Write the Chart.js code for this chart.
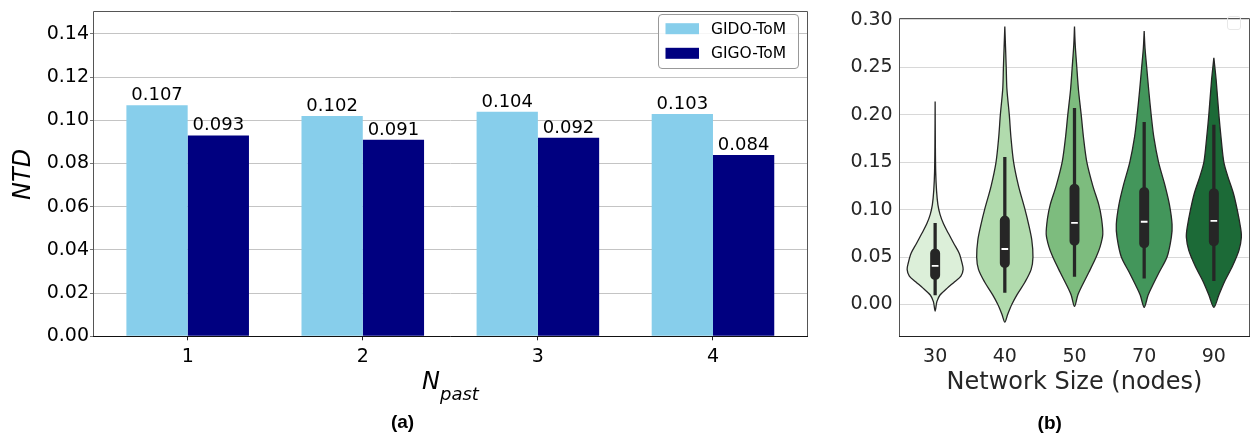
<!DOCTYPE html>
<html><head><meta charset="utf-8">
<script src="https://cdn.jsdelivr.net/npm/chart.js@4.4.1/dist/chart.umd.min.js"></script>
<style>
html,body{margin:0;padding:0;background:#fff;width:1252px;height:442px;overflow:hidden;}
#a{position:absolute;left:0;top:0;}
#b{position:absolute;left:830px;top:0;}
</style></head><body>
<canvas id="a" width="830" height="442"></canvas>
<canvas id="b" width="422" height="442"></canvas>
<script>
// ---------- panel (a) data ----------
const nPast = [1, 2, 3, 4];
const gidoTom = [0.107, 0.102, 0.104, 0.103];
const gigoTom = [0.093, 0.091, 0.092, 0.084];

// ---------- panel (b) data ----------
const networkSizes = ['30', '40', '50', '70', '90'];
const whiskerLow  = [0.0102, 0.0128, 0.0297, 0.0277, 0.0250];
const boxLow      = [0.0264, 0.0389, 0.0625, 0.0598, 0.0620];
const medians     = [0.0407, 0.0585, 0.0861, 0.0872, 0.0882];
const boxHigh     = [0.0585, 0.0931, 0.1267, 0.1233, 0.1220];
const whiskerHigh = [0.0855, 0.1550, 0.2067, 0.1919, 0.1890];

// violin density profiles: NTD value (top -> bottom) and half width (category units)
const violin30Values = [0.214, 0.17, 0.14, 0.12, 0.105, 0.095, 0.085, 0.075, 0.064, 0.054, 0.044, 0.037, 0.030, 0.024, 0.017, 0.010, 0.003, -0.007];
const violin30Widths = [0, 0.003, 0.008, 0.02, 0.04, 0.07, 0.12, 0.19, 0.27, 0.345, 0.385, 0.402, 0.37, 0.28, 0.17, 0.07, 0.025, 0];
const violin40Values = [0.293, 0.25, 0.227, 0.20, 0.176, 0.15, 0.125, 0.10, 0.085, 0.068, 0.05, 0.037, 0.0237, 0.0102, 0.0, -0.010, -0.0186];
const violin40Widths = [0, 0.02, 0.03, 0.064, 0.088, 0.126, 0.196, 0.29, 0.34, 0.387, 0.404, 0.378, 0.29, 0.174, 0.1, 0.043, 0];
const violin50Values = [0.293, 0.274, 0.25, 0.226, 0.20, 0.176, 0.15, 0.125, 0.105, 0.091, 0.074, 0.061, 0.05, 0.034, 0.020, 0.010, -0.002];
const violin50Widths = [0, 0.01, 0.033, 0.057, 0.096, 0.129, 0.177, 0.263, 0.349, 0.387, 0.406, 0.368, 0.311, 0.206, 0.11, 0.048, 0];
const violin70Values = [0.288, 0.27, 0.25, 0.226, 0.20, 0.176, 0.15, 0.125, 0.105, 0.0845, 0.071, 0.05, 0.034, 0.020, 0.010, -0.003];
const violin70Widths = [0, 0.012, 0.036, 0.065, 0.1, 0.139, 0.206, 0.3, 0.363, 0.4, 0.39, 0.328, 0.215, 0.12, 0.057, 0];
const violin90Values = [0.260, 0.2365, 0.20, 0.176, 0.15, 0.135, 0.118, 0.10, 0.081, 0.071, 0.057, 0.0405, 0.024, 0.010, -0.003];
const violin90Widths = [0, 0.033, 0.072, 0.103, 0.143, 0.2, 0.277, 0.335, 0.383, 0.395, 0.36, 0.268, 0.153, 0.072, 0];

const violinColors = ['#dcefd9', '#b1dbad', '#7dbc7e', '#43965b', '#1c6a37'];

Chart.defaults.font.family = "'DejaVu Sans', sans-serif";
Chart.defaults.animation = false;

function frame(ctx, a, side, bottom) {
  ctx.save();
  ctx.lineWidth = 1;
  ctx.strokeStyle = side;
  ctx.beginPath();
  ctx.moveTo(Math.round(a.left) - 0.5, Math.round(a.bottom));
  ctx.lineTo(Math.round(a.left) - 0.5, Math.round(a.top) - 0.5);
  ctx.lineTo(Math.round(a.right) + 0.5, Math.round(a.top) - 0.5);
  ctx.lineTo(Math.round(a.right) + 0.5, Math.round(a.bottom));
  ctx.stroke();
  ctx.strokeStyle = bottom;
  ctx.beginPath();
  ctx.moveTo(Math.round(a.left) - 1, Math.round(a.bottom) + 0.5);
  ctx.lineTo(Math.round(a.right) + 1, Math.round(a.bottom) + 0.5);
  ctx.stroke();
  ctx.restore();
}
function rrect(ctx, x, y, w, h, r) {
  ctx.beginPath();
  ctx.moveTo(x + r, y);
  ctx.arcTo(x + w, y, x + w, y + h, r);
  ctx.arcTo(x + w, y + h, x, y + h, r);
  ctx.arcTo(x, y + h, x, y, r);
  ctx.arcTo(x, y, x + w, y, r);
  ctx.closePath();
}

// ---------- chart (a) ----------
const pluginA = {
  id: 'extrasA',
  afterDatasetsDraw(chart) {
    const c = chart.ctx;
    c.save();
    c.font = '18px "DejaVu Sans"';
    c.fillStyle = '#000';
    c.textAlign = 'center';
    c.textBaseline = 'alphabetic';
    chart.data.datasets.forEach((ds, di) => {
      chart.getDatasetMeta(di).data.forEach((el, i) => {
        c.fillText(ds.data[i].y.toFixed(3), el.x, el.y - 5);
      });
    });
    c.restore();
  },
  afterDraw(chart) {
    const c = chart.ctx, a = chart.chartArea;
    frame(c, a, '#555', '#111');
    // legend
    c.save();
    rrect(c, 658.5, 14.5, 140, 54, 3.5);
    c.fillStyle = 'rgba(255,255,255,0.85)';
    c.fill();
    c.strokeStyle = '#999';
    c.lineWidth = 1;
    c.stroke();
    c.font = '15.5px "DejaVu Sans"';
    c.textBaseline = 'middle';
    c.textAlign = 'left';
    chart.data.datasets.forEach((ds, i) => {
      const cy = 28.7 + i * 24.6;
      c.fillStyle = ds.backgroundColor;
      c.fillRect(665.5, cy - 5.5, 33.5, 11);
      c.fillStyle = '#000';
      c.fillText(ds.label, 711, cy + 1);
    });
    // x axis title N_past
    c.fillStyle = '#000';
    c.textBaseline = 'alphabetic';
    c.font = 'italic 24px "DejaVu Sans"';
    const wN = c.measureText('N').width;
    c.font = 'italic 18px "DejaVu Sans"';
    const wP = c.measureText('past').width;
    const x0 = (a.left + a.right) / 2 - (wN + wP) / 2;
    c.font = 'italic 24px "DejaVu Sans"';
    c.fillText('N', x0, 389.3);
    c.font = 'italic 18px "DejaVu Sans"';
    c.fillText('past', x0 + wN, 400);
    // panel label
    c.font = 'bold 19px "Liberation Sans"';
    c.textAlign = 'center';
    c.textBaseline = 'middle';
    c.fillText('(a)', 402.5, 423);
    c.restore();
  }
};

new Chart(document.getElementById('a'), {
  type: 'bar',
  data: {
    datasets: [
      { label: 'GIDO-ToM', data: nPast.map((x, i) => ({ x: x, y: gidoTom[i] })),
        backgroundColor: '#87ceeb', categoryPercentage: 0.7, barPercentage: 1 },
      { label: 'GIGO-ToM', data: nPast.map((x, i) => ({ x: x, y: gigoTom[i] })),
        backgroundColor: '#000080', categoryPercentage: 0.7, barPercentage: 1 }
    ]
  },
  options: {
    responsive: false,
    animation: false,
    layout: { padding: { left: 0, right: 23, top: 6.7, bottom: 0 } },
    plugins: { legend: { display: false }, tooltip: { enabled: false } },
    scales: {
      x: {
        type: 'linear', min: 0.465, max: 4.537, offset: false,
        afterBuildTicks: s => { s.ticks = nPast.map(v => ({ value: v })); },
        ticks: { color: '#000', font: { size: 19 }, padding: 5.3,
                 callback: v => String(v) },
        grid: { display: true, drawOnChartArea: false, drawTicks: true, tickLength: 4, tickColor: '#222', offset: false },
        border: { display: false },
        afterFit: s => { s.height = 105.7; }
      },
      y: {
        min: 0, max: 0.15,
        ticks: { stepSize: 0.02, includeBounds: false, color: '#000', font: { size: 19 }, padding: 1,
                 callback: v => v.toFixed(2) },
        grid: { color: '#c4c4c4', tickColor: '#777', tickLength: 4 },
        border: { display: false },
        title: { display: true, text: 'NTD', color: '#000', font: { size: 24, style: 'italic' },
                 padding: { top: 9, bottom: 0 } },
        afterFit: s => { s.width = 94; }
      }
    }
  },
  plugins: [pluginA]
});

// ---------- chart (b) ----------
const violinProfiles = [
  [violin30Values, violin30Widths],
  [violin40Values, violin40Widths],
  [violin50Values, violin50Widths],
  [violin70Values, violin70Widths],
  [violin90Values, violin90Widths]
];
function violinOutline(center, values, widths) {
  const left = values.map((v, k) => ({ x: center - widths[k], y: v }));
  const right = values.map((v, k) => ({ x: center + widths[k], y: v })).reverse();
  return left.concat(right.slice(1));
}

const datasetsB = [];
networkSizes.forEach((s, i) => {
  datasetsB.push({
    type: 'line', label: 'median ' + s,
    data: [{ x: i - 0.048, y: medians[i] }, { x: i + 0.048, y: medians[i] }],
    borderColor: '#ffffff', borderWidth: 1.8, pointRadius: 0, borderCapStyle: 'butt', order: 0
  });
});
datasetsB.push({
  type: 'bar', label: 'box',
  data: networkSizes.map((s, i) => ({ x: i, y: [boxLow[i], boxHigh[i]] })),
  backgroundColor: '#262626', barThickness: 9.3, borderRadius: 4.6, borderSkipped: false,
  grouped: false, order: 1
});
datasetsB.push({
  type: 'bar', label: 'whisker',
  data: networkSizes.map((s, i) => ({ x: i, y: [whiskerLow[i], whiskerHigh[i]] })),
  backgroundColor: '#262626', barThickness: 2.6, borderSkipped: false,
  grouped: false, order: 2
});
networkSizes.forEach((s, i) => {
  datasetsB.push({
    type: 'line', label: 'violin ' + s,
    data: violinOutline(i, violinProfiles[i][0], violinProfiles[i][1]),
    fill: 'shape', backgroundColor: violinColors[i], borderColor: '#262626', borderWidth: 1.3,
    pointRadius: 0, tension: 0.3, order: 3
  });
});

const pluginB = {
  id: 'extrasB',
  afterDraw(chart) {
    const c = chart.ctx, a = chart.chartArea;
    frame(c, a, '#555', '#222');
    c.save();
    rrect(c, 397.5, 16.5, 13, 13, 2.5);
    c.strokeStyle = '#e8e8e8';
    c.lineWidth = 1;
    c.stroke();
    c.fillStyle = '#000';
    c.font = 'bold 19px "Liberation Sans"';
    c.textAlign = 'center';
    c.textBaseline = 'middle';
    c.fillText('(b)', 219.7, 424);
    c.restore();
  }
};

new Chart(document.getElementById('b'), {
  type: 'bar',
  data: { datasets: datasetsB },
  options: {
    responsive: false,
    animation: false,
    layout: { padding: { left: 0, right: 3.3, top: 7.3, bottom: 0 } },
    plugins: { legend: { display: false }, tooltip: { enabled: false } },
    scales: {
      x: {
        type: 'linear', min: -0.5, max: 4.5, offset: false,
        afterBuildTicks: s => { s.ticks = networkSizes.map((_, i) => ({ value: i })); },
        ticks: { color: '#262626', font: { size: 19 }, padding: 9.3,
                 callback: v => networkSizes[v] },
        grid: { display: false, drawTicks: false },
        border: { display: false },
        title: { display: true, text: 'Network Size (nodes)', color: '#262626', font: { size: 24 },
                 padding: { top: 0, bottom: 44.6 } },
        afterFit: s => { s.height = 105.7; }
      },
      y: {
        min: -0.0335, max: 0.3008,
        ticks: { stepSize: 0.05, includeBounds: false, color: '#262626', font: { size: 19 }, padding: 7.6,
                 callback: v => v.toFixed(2) },
        grid: { color: '#d8d8d8', drawTicks: false },
        border: { display: false },
        afterFit: s => { s.width = 70.3; }
      }
    }
  },
  plugins: [pluginB]
});
</script>
</body></html>
